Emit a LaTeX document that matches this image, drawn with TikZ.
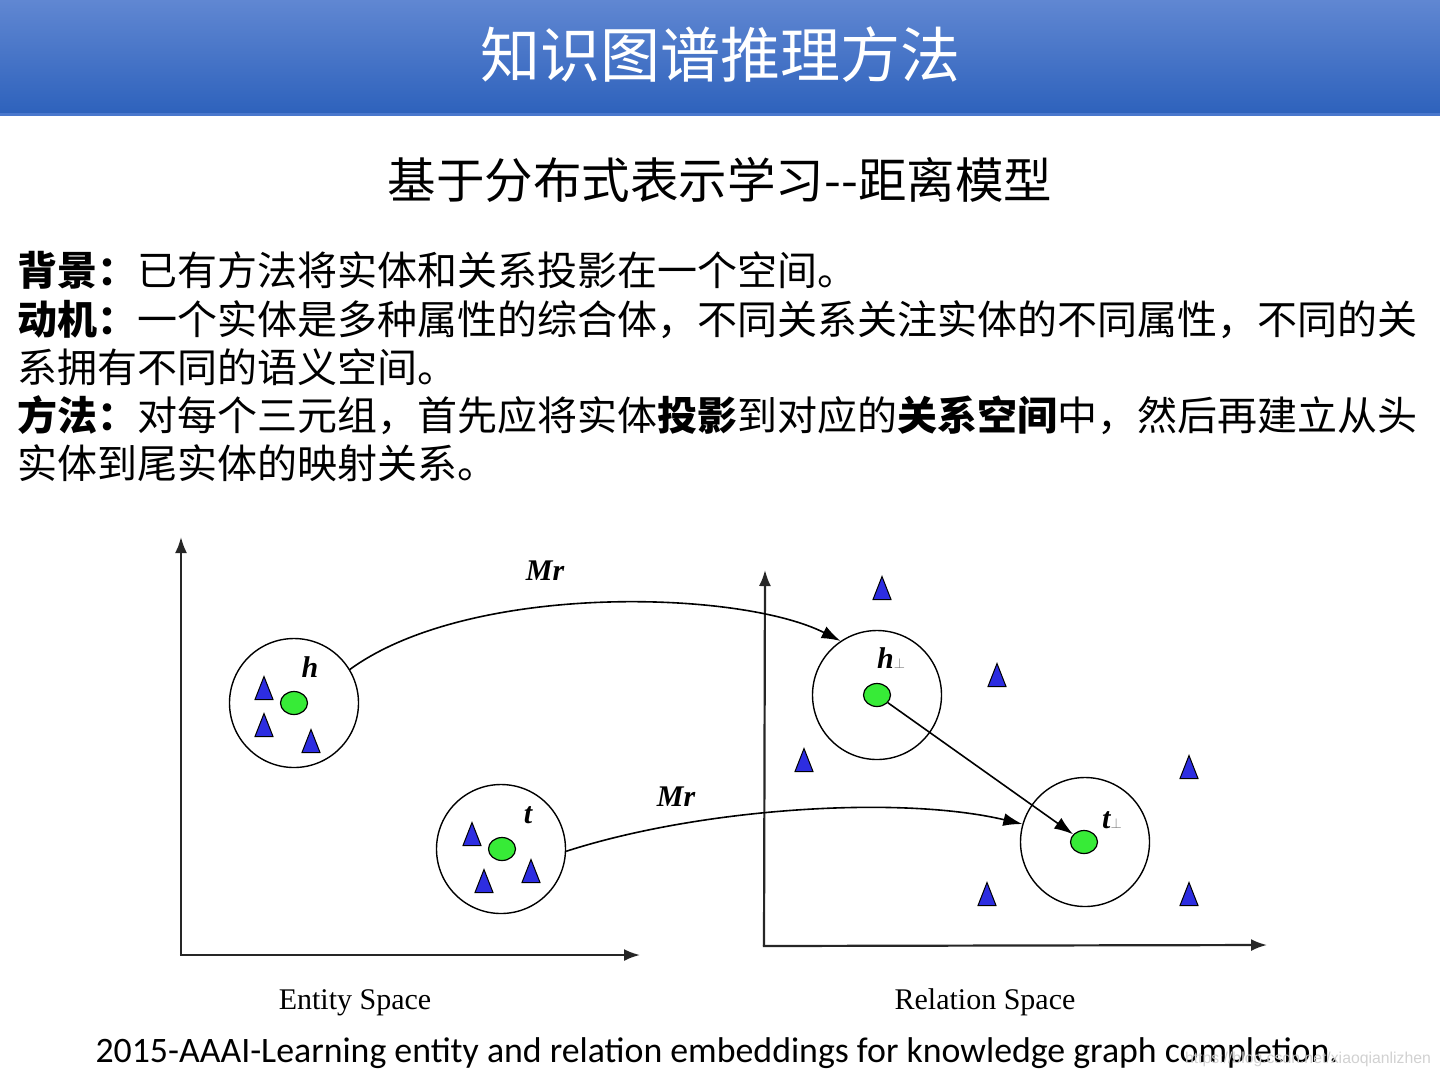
\documentclass[tikz,border=0pt]{standalone}
\usepackage{fontspec}
\usepackage{tikz}
\usetikzlibrary{arrows.meta, shapes.geometric}
\setmainfont{Liberation Serif}
\newfontfamily\cjk{Noto Sans CJK SC}
\newfontfamily\calibri{Carlito}
\newfontfamily\wmfont{Liberation Sans}
\definecolor{BarTop}{RGB}{96, 135, 210}
\definecolor{BarBottom}{RGB}{46, 98, 188}
\definecolor{BarEdge}{RGB}{74, 120, 205}
\definecolor{EntGreen}{RGB}{55, 235, 55}
\definecolor{AttrBlue}{RGB}{45, 45, 225}

\begin{document}
\begin{tikzpicture}[x=1pt, y=-1pt, font=\cjk]
    \tikzstyle{axis} = [draw=black!85, line width=2.2pt, -{Latex[length=16pt, width=12pt]}]
    \tikzstyle{cluster} = [circle, draw, line width=1.4pt, minimum size=129pt, inner sep=0pt]
    \tikzstyle{entity} = [ellipse, draw, fill=EntGreen, line width=1.2pt, minimum width=27pt, minimum height=23pt, inner sep=0pt]
    \tikzstyle{attr} = [draw, fill=AttrBlue, line width=1pt, line join=miter]
    \tikzstyle{map} = [line width=1.6pt, -{Latex[length=19pt, width=13pt]}]
    \tikzstyle{sym} = [anchor=base, inner sep=0pt, font=\fontsize{30}{30}\selectfont\bfseries\itshape]
    \tikzstyle{line} = [anchor=base west, inner sep=0pt, font=\cjk\fontsize{40}{48}\selectfont]

    \useasboundingbox (0,0) rectangle (1440,1080);

    % title bar
    \shade [top color=BarTop, bottom color=BarBottom] (0,0) rectangle (1440,113);
    \draw [BarEdge, line width=3pt] (0,114.5) -- (1440,114.5);
    \node [text=white, font=\cjk\fontsize{60}{60}\selectfont] (title) at (720,55) {知识图谱推理方法};
    \node [font=\cjk\fontsize{48.5}{48}\selectfont] (subtitle) at (720,180) {基于分布式表示学习--距离模型};

    % text lines
    \node [line] (bg) at (17,285) {\textbf{背景：}已有方法将实体和关系投影在一个空间。};
    \node [line] (mot1) at (17,334) {\textbf{动机：}一个实体是多种属性的综合体，不同关系关注实体的不同属性，不同的关};
    \node [line] (mot2) at (17,382) {系拥有不同的语义空间。};
    \node [line] (meth1) at (17,430) {\textbf{方法：}对每个三元组，首先应将实体\textbf{投影}到对应的\textbf{关系空间}中，然后再建立从头};
    \node [line] (meth2) at (17,478) {实体到尾实体的映射关系。};

    % axes
    \coordinate (eo) at (181,955);
    \coordinate (ey) at (181,537);
    \coordinate (ex) at (640,955);
    \coordinate (ro) at (764,946);
    \coordinate (ry) at (765,570);
    \coordinate (rx) at (1267,945);
    \draw [axis] (eo) -- (ey);
    \draw [axis] ([xshift=-1.1pt]eo) -- (ex);
    \draw [axis] (ro) -- (ry);
    \draw [axis] ([xshift=-1.1pt]ro) -- (rx);

    % entity space
    \node [cluster] (hc) at (294,703) {};
    \node [cluster] (tc) at (501,849) {};
    \node [entity] (h) at (294,703) {};
    \node [entity] (t) at (502,849) {};
    \node [sym] (hl) at (310,677) {h};
    \node [sym] (tl) at (528,823) {t};

    % relation space
    \node [cluster] (hpc) at (877,695) {};
    \node [cluster] (tpc) at (1085,842) {};
    \node [entity] (hp) at (877,695) {};
    \node [entity] (tp) at (1084,842) {};
    \node [sym] (hpl) at (891,668) {h\raisebox{0pt}{\normalfont\fontsize{15}{15}\selectfont\color{black!55}$\perp$}};
    \node [sym] (tpl) at (1112,828) {t\raisebox{0pt}{\normalfont\fontsize{15}{15}\selectfont\color{black!55}$\perp$}};

    % attributes
    \foreach \x/\y in {264/688, 264/725, 311/741, 472/834, 484/881, 531/871,
                       882/588, 997/675, 804/760, 1189/767, 987/894, 1189/894}
        \draw [attr] (\x-9,\y+11.5) -- (\x,\y-11.5) -- (\x+9,\y+11.5) -- cycle;

    % mappings
    \draw [map] (hc.31) .. controls (470,582) and (740,590) .. (hpc.124);
    \draw [map] (tc.-2) .. controls (700,808) and (900,795) .. (tpc.164);
    \draw [map] (hp) -- (tp);
    \node [sym] (mr1) at (545,580) {Mr};
    \node [sym] (mr2) at (676,806) {Mr};

    % captions
    \node [anchor=base, font=\fontsize{30}{30}\selectfont] (es) at (355,1009) {Entity Space};
    \node [anchor=base, font=\fontsize{30}{30}\selectfont] (rs) at (985,1009) {Relation Space};
    \node [anchor=base, font=\calibri\fontsize{35.8}{36}\selectfont] (ref) at (717,1062) {2015-AAAI-Learning entity and relation embeddings for knowledge graph completion.};
    \node [anchor=base, text=black!18, font=\wmfont\fontsize{15.8}{16}\selectfont] (wm) at (1308,1063) {https://blog.csdn.net/xiaoqianlizhen};
  \end{tikzpicture}
\end{document}
